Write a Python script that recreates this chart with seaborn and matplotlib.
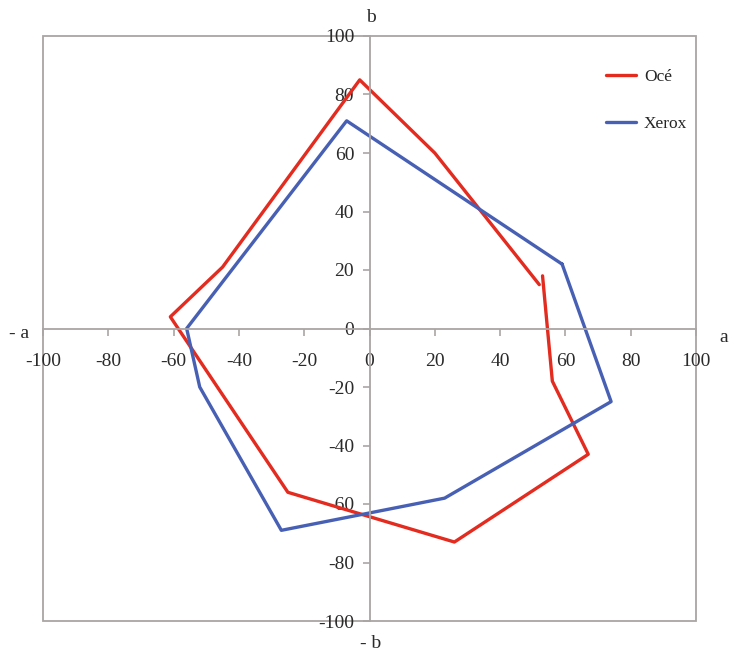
import matplotlib
matplotlib.use("Agg")
import matplotlib.pyplot as plt
from matplotlib.patches import Rectangle
import pandas as pd
import seaborn as sns

# Colour gamut outlines in the a*-b* plane
oce_a = [53, 56, 67, 26, -25, -61, -45, -3, 20, 52]
oce_b = [18, -18, -43, -73, -56, 4, 21, 85, 60, 15]
xerox_a = [59, 74, 23, -27, -52, -56, -7, 59]
xerox_b = [22, -25, -58, -69, -20, 0, 71, 22]
series_names = ["Océ", "Xerox"]
ticks = [-100, -80, -60, -40, -20, 0, 20, 40, 60, 80, 100]

df = pd.concat([
    pd.DataFrame({"a": oce_a, "b": oce_b, "series": series_names[0],
                  "order": range(len(oce_a))}),
    pd.DataFrame({"a": xerox_a, "b": xerox_b, "series": series_names[1],
                  "order": range(len(xerox_a))}),
], ignore_index=True)

sns.set_theme(style="white")
plt.rcParams["font.family"] = ["Liberation Serif", "DejaVu Serif"]
plt.rcParams["axes.unicode_minus"] = False

grey = "#aaa5a5"
ink = "#2a2a2a"
palette = {"Océ": "#e32b1f", "Xerox": "#4760b4"}

fig = plt.figure(figsize=(7.43, 6.53), dpi=100)
ax = fig.add_axes([43 / 743, 1 - 621 / 653, 653 / 743, 585 / 653])

sns.lineplot(data=df, x="a", y="b", hue="series", palette=palette,
             sort=False, estimator=None, units="series", linewidth=2.4,
             ax=ax, legend=False)

ax.set_xlim(-100, 100)
ax.set_ylim(-100, 100)
ax.set_xticks(ticks)
ax.set_yticks(ticks)
ax.set_xlabel("")
ax.set_ylabel("")

# Axes crossing at the origin
ax.spines["left"].set_position("zero")
ax.spines["bottom"].set_position("zero")
for side in ["top", "right"]:
    ax.spines[side].set_visible(False)
for side in ["left", "bottom"]:
    ax.spines[side].set_color(grey)
    ax.spines[side].set_linewidth(1.3)

# Outer frame
ax.add_patch(Rectangle((0, 0), 1, 1, transform=ax.transAxes, fill=False,
                       edgecolor=grey, linewidth=1.3, clip_on=False, zorder=0))

ax.tick_params(axis="x", direction="out", length=5, width=1.2, color=grey,
               pad=13, labelsize=14, labelcolor=ink)
ax.tick_params(axis="y", direction="out", length=5, width=1.2, color=grey,
               pad=6, labelsize=14, labelcolor=ink)
ax.xaxis.set_ticks_position("bottom")
ax.yaxis.set_ticks_position("left")

# Axis names at the ends of the axes
txt = dict(fontsize=14, color=ink, ha="center", va="center")
fig.text(371 / 743, 1 - 18 / 653, "b", **txt)
fig.text(371 / 743, 1 - 644 / 653, "- b", **txt)
fig.text(19 / 743, 1 - 333 / 653, "- a", **txt)
fig.text(724 / 743, 1 - 337 / 653, "a", **txt)

handles = [plt.Line2D([], [], color=palette[n], linewidth=2.4) for n in series_names]
fig.legend(handles, series_names, loc="upper left",
           bbox_to_anchor=(590 / 743, 1 - 53 / 653), frameon=False,
           fontsize=12.5, handlelength=1.75, handletextpad=0.45,
           labelspacing=1.8)

fig.savefig("out.png", dpi=100)
